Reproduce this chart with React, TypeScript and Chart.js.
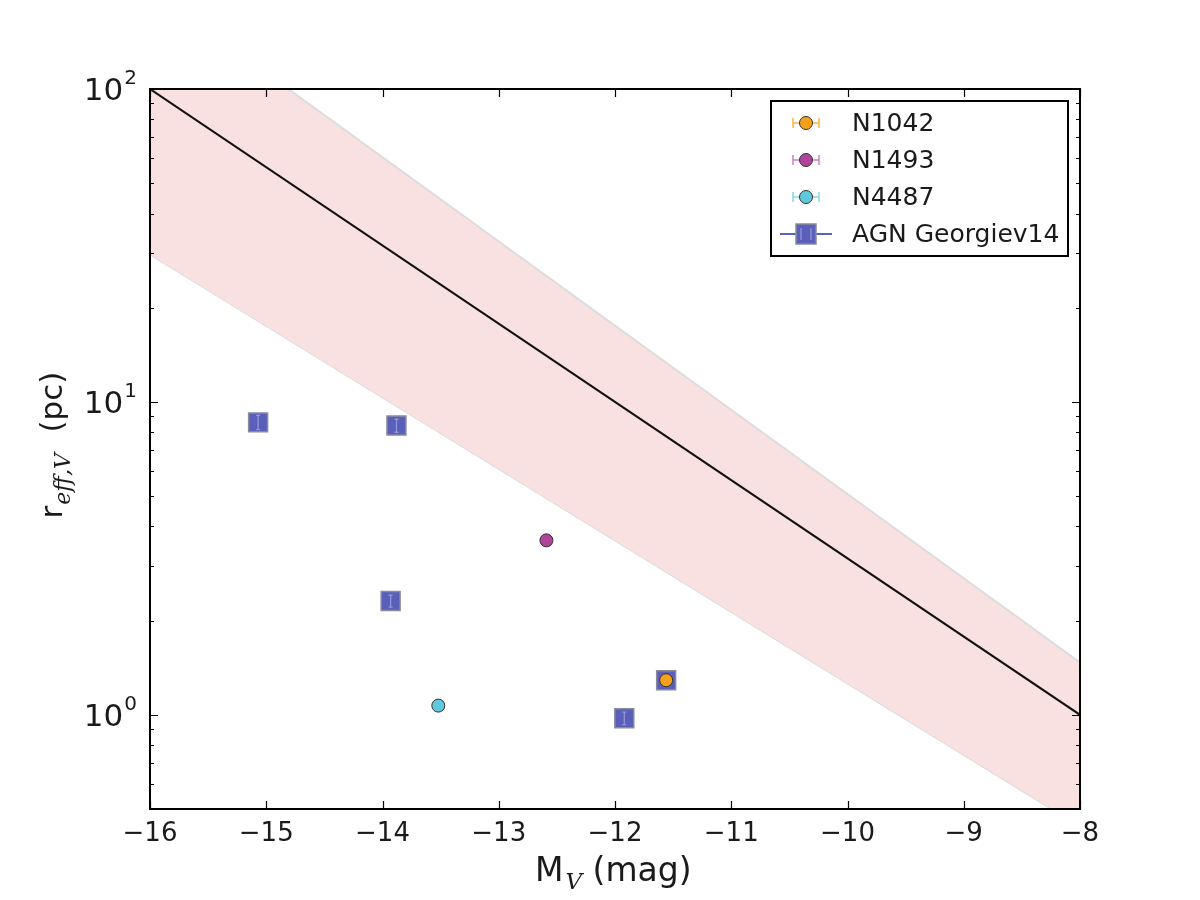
import React, { useEffect, useRef } from "react";
import { Chart, registerables } from "chart.js";

Chart.register(...registerables);

// Axis ticks
const xTicks = [-16, -15, -14, -13, -12, -11, -10, -9, -8];
const yMajorTicks = [1, 10, 100];
const yMajorExponents = ["0", "1", "2"];
const yMinorTicks = [0.5, 0.6, 0.7, 0.8, 0.9, 2, 3, 4, 5, 6, 7, 8, 9, 20, 30, 40, 50, 60, 70, 80, 90];

// Size–luminosity relation and its scatter band (end points in M_V)
const relationMv = [-16, -8];
const relationR = [100, 1];
const bandUpperR = [209, 1.47];
const bandLowerR = [29.6, 0.44];

// AGN sample (Georgiev 2014)
const agnMv = [-15.07, -13.88, -13.93, -11.92, -11.56];
const agnR = [8.6, 8.4, 2.31, 0.975, 1.29];
const agnRErr = [0.45, 0.4, 0.1, 0.045, 0.05];

// Nuclear clusters
const n1042Mv = [-11.56];
const n1042R = [1.29];
const n1493Mv = [-12.59];
const n1493R = [3.61];
const n4487Mv = [-13.52];
const n4487R = [1.07];

const legendLabels = ["N1042", "N1493", "N4487", "AGN Georgiev14"];

const ORANGE = "#f7a11a";
const MAGENTA = "#b0449b";
const CYAN = "#5ec8dc";
const AGN_FILL = "#5a60b9";
const AGN_EDGE = "#8a8a9a";
const ERR_ORANGE = "#f9b54e";
const ERR_MAGENTA = "#cf7fbf";
const ERR_CYAN = "#86d8e8";
const ERR_AGN = "#5a62c4";
const TEXT = "#1a1a1a";

const SANS = '"DejaVu Sans", sans-serif';
const MATH_IT = '"DejaVu Serif", serif';

const pts = (xs: number[], ys: number[]) => xs.map((x, i) => ({ x, y: ys[i] }));

const framePlugin = {
  id: "frameAndLabels",
  afterDatasetDraw(chart: any, args: any) {
    if (args.meta.label !== "AGN Georgiev14") return;
    const { ctx, scales } = chart;
    const xs = scales.x;
    const ys = scales.y;
    ctx.save();
    ctx.strokeStyle = "rgba(150,156,220,0.9)";
    ctx.lineWidth = 1.3;
    agnMv.forEach((m, i) => {
      const px = xs.getPixelForValue(m);
      const top = ys.getPixelForValue(agnR[i] + agnRErr[i]);
      const bot = ys.getPixelForValue(agnR[i] - agnRErr[i]);
      ctx.beginPath();
      ctx.moveTo(px, top);
      ctx.lineTo(px, bot);
      ctx.moveTo(px - 2, top);
      ctx.lineTo(px + 2, top);
      ctx.moveTo(px - 2, bot);
      ctx.lineTo(px + 2, bot);
      ctx.stroke();
    });
    ctx.restore();
  },
  afterDraw(chart: any) {
    const { ctx, chartArea: a, scales } = chart;
    const xs = scales.x;
    const ys = scales.y;
    ctx.save();

    // frame
    ctx.strokeStyle = "#000";
    ctx.lineWidth = 2;
    ctx.strokeRect(a.left, a.top, a.right - a.left, a.bottom - a.top);

    // tick marks, pointing inward on all four sides
    ctx.lineWidth = 1.2;
    ctx.beginPath();
    xTicks.forEach((v) => {
      const p = Math.round(xs.getPixelForValue(v)) + 0.5;
      ctx.moveTo(p, a.bottom);
      ctx.lineTo(p, a.bottom - 8);
      ctx.moveTo(p, a.top);
      ctx.lineTo(p, a.top + 8);
    });
    yMajorTicks.forEach((v) => {
      const p = Math.round(ys.getPixelForValue(v)) + 0.5;
      ctx.moveTo(a.left, p);
      ctx.lineTo(a.left + 8, p);
      ctx.moveTo(a.right, p);
      ctx.lineTo(a.right - 8, p);
    });
    yMinorTicks.forEach((v) => {
      const p = Math.round(ys.getPixelForValue(v)) + 0.5;
      ctx.moveTo(a.left, p);
      ctx.lineTo(a.left + 4, p);
      ctx.moveTo(a.right, p);
      ctx.lineTo(a.right - 4, p);
    });
    ctx.stroke();

    // x tick labels
    ctx.fillStyle = TEXT;
    ctx.font = `26px ${SANS}`;
    ctx.textAlign = "center";
    ctx.textBaseline = "alphabetic";
    xTicks.forEach((v) => {
      const label = v < 0 ? "\u2212" + Math.abs(v) : String(v);
      ctx.fillText(label, xs.getPixelForValue(v), a.bottom + 32);
    });

    // y tick labels as powers of ten
    ctx.textAlign = "left";
    yMajorTicks.forEach((v, i) => {
      const p = ys.getPixelForValue(v);
      ctx.font = `31px ${SANS}`;
      const wBase = ctx.measureText("10").width;
      ctx.font = `20px ${SANS}`;
      const wExp = ctx.measureText(yMajorExponents[i]).width;
      const x0 = a.left - 14 - wBase - wExp;
      ctx.font = `31px ${SANS}`;
      ctx.fillText("10", x0, p + 11);
      ctx.font = `20px ${SANS}`;
      ctx.fillText(yMajorExponents[i], x0 + wBase + 1, p - 5);
    });

    // x axis title: M_V (mag)
    {
      const baseFont = `33px ${SANS}`;
      const subFont = `italic 23px ${MATH_IT}`;
      let x = 535;
      const y = 881;
      ctx.font = baseFont;
      ctx.fillText("M", x, y);
      x += ctx.measureText("M").width + 2;
      ctx.font = subFont;
      ctx.fillText("V", x, y + 8);
      x += ctx.measureText("V").width;
      ctx.font = baseFont;
      ctx.fillText(" (mag)", x, y);
    }

    // y axis title: r_eff,V (pc)
    {
      const baseFont = `31px ${SANS}`;
      const subFont = `italic 22px ${MATH_IT}`;
      ctx.font = baseFont;
      const w1 = ctx.measureText("r").width;
      const w3 = ctx.measureText("  (pc)").width;
      ctx.font = subFont;
      const w2 = ctx.measureText("eff,V").width;
      const total = w1 + w2 + w3 + 2;
      ctx.save();
      ctx.translate(62, 445);
      ctx.rotate(-Math.PI / 2);
      let x = -total / 2;
      ctx.font = baseFont;
      ctx.fillText("r", x, 0);
      x += w1 + 1;
      ctx.font = subFont;
      ctx.fillText("eff,V", x, 8);
      x += w2 + 1;
      ctx.font = baseFont;
      ctx.fillText("  (pc)", x, 0);
      ctx.restore();
    }

    // legend
    {
      const bx = 771;
      const by = 101;
      const bw = 297;
      const bh = 155;
      ctx.fillStyle = "#fff";
      ctx.fillRect(bx, by, bw, bh);
      ctx.strokeStyle = "#000";
      ctx.lineWidth = 2;
      ctx.strokeRect(bx, by, bw, bh);

      const rows = [123, 160, 197, 234];
      const mx = 806;
      const circleSpecs = [
        [ORANGE, ERR_ORANGE],
        [MAGENTA, ERR_MAGENTA],
        [CYAN, ERR_CYAN],
      ];
      circleSpecs.forEach(([fill, err], i) => {
        const y = rows[i];
        ctx.strokeStyle = err;
        ctx.lineWidth = 1.5;
        ctx.beginPath();
        ctx.moveTo(mx - 13, y);
        ctx.lineTo(mx + 13, y);
        ctx.moveTo(mx - 13, y - 5);
        ctx.lineTo(mx - 13, y + 5);
        ctx.moveTo(mx + 13, y - 5);
        ctx.lineTo(mx + 13, y + 5);
        ctx.stroke();
        ctx.beginPath();
        ctx.arc(mx, y, 6.5, 0, Math.PI * 2);
        ctx.fillStyle = fill;
        ctx.fill();
        ctx.strokeStyle = "#333";
        ctx.lineWidth = 1;
        ctx.stroke();
      });
      {
        const y = rows[3];
        ctx.strokeStyle = ERR_AGN;
        ctx.lineWidth = 1.8;
        ctx.beginPath();
        ctx.moveTo(780, y);
        ctx.lineTo(832, y);
        ctx.stroke();
        ctx.fillStyle = AGN_FILL;
        ctx.fillRect(mx - 10, y - 10, 20, 20);
        ctx.strokeStyle = AGN_EDGE;
        ctx.lineWidth = 1.5;
        ctx.strokeRect(mx - 10, y - 10, 20, 20);
        ctx.strokeStyle = "rgba(150,156,220,0.9)";
        ctx.lineWidth = 1.3;
        ctx.beginPath();
        ctx.moveTo(mx - 5, y - 6);
        ctx.lineTo(mx - 5, y + 6);
        ctx.moveTo(mx + 5, y - 6);
        ctx.lineTo(mx + 5, y + 6);
        ctx.stroke();
      }
      ctx.fillStyle = TEXT;
      ctx.font = `25px ${SANS}`;
      ctx.textAlign = "left";
      ctx.textBaseline = "middle";
      legendLabels.forEach((t, i) => ctx.fillText(t, 852, rows[i] + 1));
    }

    ctx.restore();
  },
};

export default function App() {
  const canvasRef = useRef<HTMLCanvasElement | null>(null);

  useEffect(() => {
    document.body.style.margin = "0";
    const canvas = canvasRef.current;
    if (!canvas) return;

    const chart = new Chart(canvas, {
      type: "scatter",
      data: {
        datasets: [
          {
            label: "N1042",
            data: pts(n1042Mv, n1042R),
            pointStyle: "circle",
            pointRadius: 6.5,
            backgroundColor: ORANGE,
            borderColor: "#333",
            borderWidth: 1,
            order: 0,
          },
          {
            label: "N1493",
            data: pts(n1493Mv, n1493R),
            pointStyle: "circle",
            pointRadius: 6.5,
            backgroundColor: MAGENTA,
            borderColor: "#333",
            borderWidth: 1,
            order: 0,
          },
          {
            label: "N4487",
            data: pts(n4487Mv, n4487R),
            pointStyle: "circle",
            pointRadius: 6.5,
            backgroundColor: CYAN,
            borderColor: "#333",
            borderWidth: 1,
            order: 0,
          },
          {
            label: "AGN Georgiev14",
            data: pts(agnMv, agnR),
            pointStyle: "rect",
            pointRadius: 13.4,
            backgroundColor: AGN_FILL,
            borderColor: AGN_EDGE,
            borderWidth: 1.5,
            order: 1,
          },
          {
            label: "relation",
            type: "line",
            data: pts(relationMv, relationR),
            borderColor: "#111",
            borderWidth: 2,
            pointRadius: 0,
            fill: false,
            clip: 0,
            order: 2,
          },
          {
            label: "band upper",
            type: "line",
            data: pts(relationMv, bandUpperR),
            borderColor: "#dcdcdc",
            borderWidth: 2,
            pointRadius: 0,
            backgroundColor: "#f9e1e2",
            fill: "+1",
            clip: 0,
            order: 3,
          },
          {
            label: "band lower",
            type: "line",
            data: pts(relationMv, bandLowerR),
            borderColor: "#dcdcdc",
            borderWidth: 2,
            pointRadius: 0,
            fill: false,
            clip: 0,
            order: 3,
          },
        ],
      },
      options: {
        responsive: false,
        animation: false,
        events: [],
        layout: { padding: { left: 150, top: 89, right: 120, bottom: 91 } },
        plugins: {
          legend: { display: false },
          tooltip: { enabled: false },
        },
        scales: {
          x: { type: "linear", min: -16, max: -8, display: false },
          y: { type: "logarithmic", min: 0.5, max: 100, display: false },
        },
      },
      plugins: [framePlugin],
    });

    return () => chart.destroy();
  }, []);

  return (
    <div style={{ width: 1200, height: 900, background: "#fff" }}>
      <canvas ref={canvasRef} width={1200} height={900} style={{ display: "block" }} />
    </div>
  );
}
